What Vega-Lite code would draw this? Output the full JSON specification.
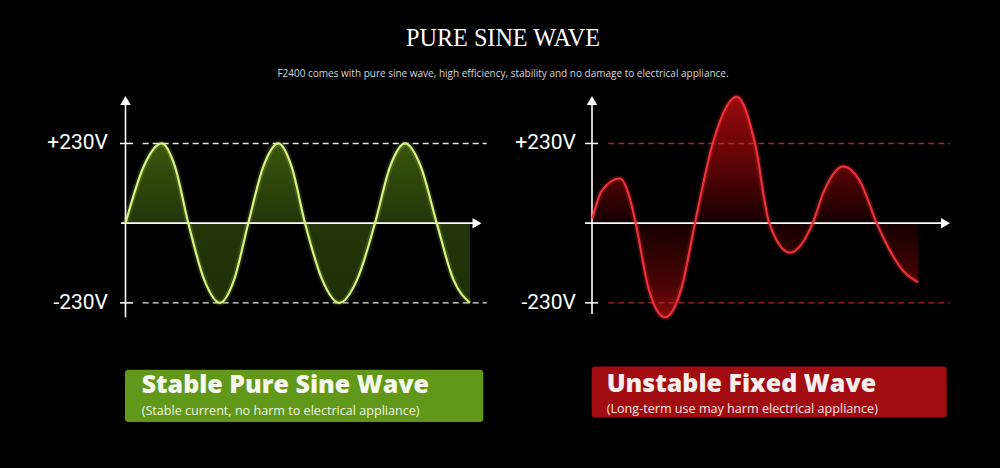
{
  "$schema": "https://vega.github.io/schema/vega-lite/v6.json",
  "width": 1000,
  "height": 468,
  "autosize": {"type": "fit", "contains": "padding"},
  "padding": {"top": 26, "left": 0, "right": 0, "bottom": 0},
  "background": "#000000",
  "title": {
    "text": "PURE SINE WAVE",
    "subtitle": "F2400 comes with pure sine wave, high efficiency, stability and no damage to electrical appliance.",
    "font": "Liberation Serif",
    "fontSize": 24.2,
    "fontWeight": "normal",
    "color": "#ffffff",
    "subtitleFont": "Open Sans",
    "subtitleFontSize": 10,
    "subtitleColor": "#d6d6d6",
    "subtitlePadding": 18,
    "anchor": "middle",
    "frame": "group",
    "offset": 2,
    "dx": 3
  },
  "datasets": {
    "pure": [
      {"t": 0, "v": 0}, {"t": 2.9, "v": 163}, {"t": 5.81, "v": 230}, {"t": 7.95, "v": 163},
      {"t": 10.09, "v": 0}, {"t": 12.63, "v": -163}, {"t": 15.18, "v": -230}, {"t": 17.45, "v": -163},
      {"t": 19.72, "v": 0}, {"t": 22.13, "v": 163}, {"t": 24.54, "v": 230}, {"t": 26.68, "v": 163},
      {"t": 28.83, "v": 0}, {"t": 31.58, "v": -163}, {"t": 34.33, "v": -230}, {"t": 37.2, "v": -163},
      {"t": 40.07, "v": 0}, {"t": 42.48, "v": 163}, {"t": 44.89, "v": 230}, {"t": 47.43, "v": 163},
      {"t": 49.98, "v": 0}, {"t": 52.65, "v": -163}, {"t": 55.32, "v": -230}
    ],
    "unstable": [
      {"t": 0.05, "v": 13}, {"t": 1.56, "v": 93}, {"t": 4.5, "v": 129}, {"t": 5.94, "v": 80},
      {"t": 7.02, "v": 0}, {"t": 9.04, "v": -186}, {"t": 11.72, "v": -272}, {"t": 14.4, "v": -186},
      {"t": 16.54, "v": 0}, {"t": 19.38, "v": 230}, {"t": 23.24, "v": 365}, {"t": 26.18, "v": 230},
      {"t": 28.47, "v": 0}, {"t": 31.8, "v": -85}, {"t": 35.44, "v": 0}, {"t": 37.15, "v": 88},
      {"t": 40.36, "v": 164}, {"t": 43.04, "v": 121}, {"t": 45.72, "v": 0}, {"t": 47.86, "v": -80},
      {"t": 49.99, "v": -138}, {"t": 52.4, "v": -171}
    ],
    "levels": [{"v": 230, "label": "+230V"}, {"v": -230, "label": "-230V"}]
  },
  "resolve": {"scale": {"x": "independent"}},
  "layer": [
    {
      "layer": [
        {
          "data": {"name": "pure"},
          "mark": {"type": "area", "interpolate": "monotone", "fill": {"gradient": "linear", "x1": 0, "y1": 0, "x2": 0, "y2": 1, "stops": [{"offset": 0, "color": "#3a560c"}, {"offset": 0.5, "color": "#22360a"}, {"offset": 1, "color": "#1e3006"}]}},
          "encoding": {
            "x": {"field": "t", "type": "quantitative", "scale": {"domain": [-20.154, 140.437]}},
            "y": {"field": "v", "type": "quantitative", "scale": {"domain": [-706.7, 410.3]}},
            "y2": {"datum": 0}
          }
        },
        {
          "data": {"name": "levels"},
          "mark": {"type": "rule", "stroke": "#e6e6e6", "strokeWidth": 1.4, "strokeDash": [6, 4]},
          "encoding": {
            "x": {"datum": 2.76, "type": "quantitative", "scale": {"domain": [-20.154, 140.437]}},
            "x2": {"datum": 58.0},
            "y": {"field": "v", "type": "quantitative", "scale": {"domain": [-706.7, 410.3]}}
          }
        },
        {
          "data": {"name": "levels"},
          "mark": {"type": "rule", "stroke": "#ffffff", "strokeWidth": 1.5},
          "encoding": {
            "x": {"datum": -0.88, "type": "quantitative", "scale": {"domain": [-20.154, 140.437]}},
            "x2": {"datum": 1.2},
            "y": {"field": "v", "type": "quantitative", "scale": {"domain": [-706.7, 410.3]}}
          }
        },
        {
          "data": {"name": "levels"},
          "mark": {"type": "text", "align": "right", "baseline": "middle", "font": "Roboto", "fontSize": 21, "color": "#ffffff"},
          "encoding": {
            "x": {"datum": -2.81, "type": "quantitative", "scale": {"domain": [-20.154, 140.437]}},
            "y": {"field": "v", "type": "quantitative", "scale": {"domain": [-706.7, 410.3]}},
            "text": {"field": "label"}
          }
        },
        {
          "data": {"values": [{}]},
          "mark": {"type": "rule", "stroke": "#ffffff", "strokeWidth": 1.6},
          "encoding": {
            "x": {"datum": 0, "type": "quantitative", "scale": {"domain": [-20.154, 140.437]}},
            "y": {"datum": -272, "type": "quantitative", "scale": {"domain": [-706.7, 410.3]}},
            "y2": {"datum": 350}
          }
        },
        {
          "data": {"values": [{}]},
          "mark": {"type": "rule", "stroke": "#ffffff", "strokeWidth": 1.6},
          "encoding": {
            "x": {"datum": -0.72, "type": "quantitative", "scale": {"domain": [-20.154, 140.437]}},
            "x2": {"datum": 56},
            "y": {"datum": 0, "type": "quantitative", "scale": {"domain": [-706.7, 410.3]}}
          }
        },
        {
          "data": {"values": [{}]},
          "mark": {"type": "point", "shape": "triangle-up", "filled": true, "color": "#ffffff", "size": 110, "opacity": 1},
          "encoding": {
            "x": {"datum": 0, "type": "quantitative", "scale": {"domain": [-20.154, 140.437]}},
            "y": {"datum": 354, "type": "quantitative", "scale": {"domain": [-706.7, 410.3]}}
          }
        },
        {
          "data": {"values": [{}]},
          "mark": {"type": "point", "shape": "triangle-right", "filled": true, "color": "#ffffff", "size": 110, "opacity": 1},
          "encoding": {
            "x": {"datum": 56.45, "type": "quantitative", "scale": {"domain": [-20.154, 140.437]}},
            "y": {"datum": 0, "type": "quantitative", "scale": {"domain": [-706.7, 410.3]}}
          }
        },
        {
          "data": {"name": "pure"},
          "mark": {"type": "line", "interpolate": "monotone", "stroke": "#c8f060", "strokeWidth": 6, "opacity": 0.15},
          "encoding": {
            "x": {"field": "t", "type": "quantitative", "scale": {"domain": [-20.154, 140.437]}},
            "y": {"field": "v", "type": "quantitative", "scale": {"domain": [-706.7, 410.3]}}
          }
        },
        {
          "data": {"name": "pure"},
          "mark": {"type": "line", "interpolate": "monotone", "stroke": "#d8f283", "strokeWidth": 2.2},
          "encoding": {
            "x": {"field": "t", "type": "quantitative", "scale": {"domain": [-20.154, 140.437]}},
            "y": {"field": "v", "type": "quantitative", "scale": {"domain": [-706.7, 410.3]}}
          }
        },
        {
          "data": {"values": [{"title": "Stable Pure Sine Wave", "note": "(Stable current, no harm to electrical appliance)"}]},
          "layer": [
            {
              "mark": {"type": "rect", "fill": "#62981a", "cornerRadius": 3},
              "encoding": {
                "x": {"datum": -0.08, "type": "quantitative", "scale": {"domain": [-20.154, 140.437]}},
                "x2": {"datum": 57.46},
                "y": {"datum": -422.9, "type": "quantitative", "scale": {"domain": [-706.7, 410.3]}},
                "y2": {"datum": -573.6}
              }
            },
            {
              "mark": {"type": "text", "align": "left", "baseline": "alphabetic", "font": "Open Sans", "fontWeight": 800, "fontSize": 25, "color": "#f5f8ea"},
              "encoding": {
                "x": {"datum": 2.6, "type": "quantitative", "scale": {"domain": [-20.154, 140.437]}},
                "y": {"datum": -491, "type": "quantitative", "scale": {"domain": [-706.7, 410.3]}},
                "text": {"field": "title"}
              }
            },
            {
              "mark": {"type": "text", "align": "left", "baseline": "alphabetic", "font": "Open Sans", "fontSize": 12.6, "color": "#eef3e0"},
              "encoding": {
                "x": {"datum": 2.6, "type": "quantitative", "scale": {"domain": [-20.154, 140.437]}},
                "y": {"datum": -554, "type": "quantitative", "scale": {"domain": [-706.7, 410.3]}},
                "text": {"field": "note"}
              }
            }
          ]
        }
      ]
    },
    {
      "layer": [
        {
          "data": {"name": "unstable"},
          "mark": {"type": "area", "interpolate": "monotone", "fill": {"gradient": "linear", "x1": 0, "y1": 0, "x2": 0, "y2": 1, "stops": [{"offset": 0, "color": "#990b0d"}, {"offset": 0.3, "color": "#5e0406"}, {"offset": 0.573, "color": "#160000"}, {"offset": 0.85, "color": "#480304"}, {"offset": 1, "color": "#860a0c"}]}},
          "encoding": {
            "x": {"field": "t", "type": "quantitative", "scale": {"domain": [-95.07, 65.52]}},
            "y": {"field": "v", "type": "quantitative", "scale": {"domain": [-706.7, 410.3]}},
            "y2": {"datum": 0}
          }
        },
        {
          "data": {"name": "levels"},
          "mark": {"type": "rule", "stroke": "#b4262b", "strokeWidth": 1.4, "strokeDash": [6, 4]},
          "encoding": {
            "x": {"datum": 2.62, "type": "quantitative", "scale": {"domain": [-95.07, 65.52]}},
            "x2": {"datum": 57.5},
            "y": {"field": "v", "type": "quantitative", "scale": {"domain": [-706.7, 410.3]}}
          }
        },
        {
          "data": {"name": "levels"},
          "mark": {"type": "rule", "stroke": "#ffffff", "strokeWidth": 1.5},
          "encoding": {
            "x": {"datum": -1.12, "type": "quantitative", "scale": {"domain": [-95.07, 65.52]}},
            "x2": {"datum": 0.96},
            "y": {"field": "v", "type": "quantitative", "scale": {"domain": [-706.7, 410.3]}}
          }
        },
        {
          "data": {"name": "levels"},
          "mark": {"type": "text", "align": "right", "baseline": "middle", "font": "Roboto", "fontSize": 21, "color": "#ffffff"},
          "encoding": {
            "x": {"datum": -2.57, "type": "quantitative", "scale": {"domain": [-95.07, 65.52]}},
            "y": {"field": "v", "type": "quantitative", "scale": {"domain": [-706.7, 410.3]}},
            "text": {"field": "label"}
          }
        },
        {
          "data": {"values": [{}]},
          "mark": {"type": "rule", "stroke": "#ffffff", "strokeWidth": 1.6},
          "encoding": {
            "x": {"datum": 0, "type": "quantitative", "scale": {"domain": [-95.07, 65.52]}},
            "y": {"datum": -262, "type": "quantitative", "scale": {"domain": [-706.7, 410.3]}},
            "y2": {"datum": 350}
          }
        },
        {
          "data": {"values": [{}]},
          "mark": {"type": "rule", "stroke": "#ffffff", "strokeWidth": 1.6},
          "encoding": {
            "x": {"datum": -1.12, "type": "quantitative", "scale": {"domain": [-95.07, 65.52]}},
            "x2": {"datum": 56.3},
            "y": {"datum": 0, "type": "quantitative", "scale": {"domain": [-706.7, 410.3]}}
          }
        },
        {
          "data": {"values": [{}]},
          "mark": {"type": "point", "shape": "triangle-up", "filled": true, "color": "#ffffff", "size": 110, "opacity": 1},
          "encoding": {
            "x": {"datum": 0, "type": "quantitative", "scale": {"domain": [-95.07, 65.52]}},
            "y": {"datum": 354, "type": "quantitative", "scale": {"domain": [-706.7, 410.3]}}
          }
        },
        {
          "data": {"values": [{}]},
          "mark": {"type": "point", "shape": "triangle-right", "filled": true, "color": "#ffffff", "size": 110, "opacity": 1},
          "encoding": {
            "x": {"datum": 56.77, "type": "quantitative", "scale": {"domain": [-95.07, 65.52]}},
            "y": {"datum": 0, "type": "quantitative", "scale": {"domain": [-706.7, 410.3]}}
          }
        },
        {
          "data": {"name": "unstable"},
          "mark": {"type": "line", "interpolate": "monotone", "stroke": "#ff1e28", "strokeWidth": 6, "opacity": 0.2},
          "encoding": {
            "x": {"field": "t", "type": "quantitative", "scale": {"domain": [-95.07, 65.52]}},
            "y": {"field": "v", "type": "quantitative", "scale": {"domain": [-706.7, 410.3]}}
          }
        },
        {
          "data": {"name": "unstable"},
          "mark": {"type": "line", "interpolate": "monotone", "stroke": "#e8333b", "strokeWidth": 2.2},
          "encoding": {
            "x": {"field": "t", "type": "quantitative", "scale": {"domain": [-95.07, 65.52]}},
            "y": {"field": "v", "type": "quantitative", "scale": {"domain": [-706.7, 410.3]}}
          }
        },
        {
          "data": {"values": [{"title": "Unstable Fixed Wave", "note": "(Long-term use may harm electrical appliance)"}]},
          "layer": [
            {
              "mark": {"type": "rect", "fill": "#a10c10", "cornerRadius": 3},
              "encoding": {
                "x": {"datum": -0.05, "type": "quantitative", "scale": {"domain": [-95.07, 65.52]}},
                "x2": {"datum": 56.96},
                "y": {"datum": -413.4, "type": "quantitative", "scale": {"domain": [-706.7, 410.3]}},
                "y2": {"datum": -560.9}
              }
            },
            {
              "mark": {"type": "text", "align": "left", "baseline": "alphabetic", "font": "Open Sans", "fontWeight": 800, "fontSize": 25, "color": "#f8eeee"},
              "encoding": {
                "x": {"datum": 2.36, "type": "quantitative", "scale": {"domain": [-95.07, 65.52]}},
                "y": {"datum": -486, "type": "quantitative", "scale": {"domain": [-706.7, 410.3]}},
                "text": {"field": "title"}
              }
            },
            {
              "mark": {"type": "text", "align": "left", "baseline": "alphabetic", "font": "Open Sans", "fontSize": 12.6, "color": "#f5e6e6"},
              "encoding": {
                "x": {"datum": 2.36, "type": "quantitative", "scale": {"domain": [-95.07, 65.52]}},
                "y": {"datum": -547, "type": "quantitative", "scale": {"domain": [-706.7, 410.3]}},
                "text": {"field": "note"}
              }
            }
          ]
        }
      ]
    }
  ],
  "config": {"view": {"stroke": null}, "axis": {"disable": true}}
}
